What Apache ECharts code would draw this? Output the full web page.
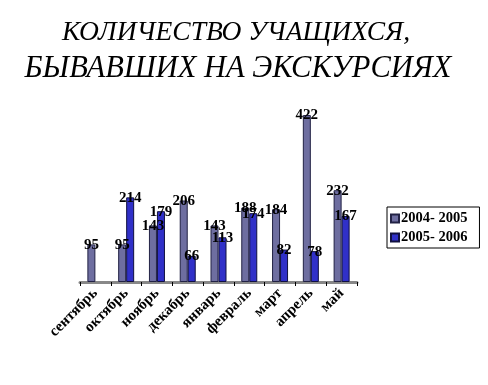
<!DOCTYPE html>
<html><head><meta charset="utf-8">
<script src="https://cdn.jsdelivr.net/npm/echarts@6/dist/echarts.min.js"></script>
<style>html,body{margin:0;padding:0;background:#fff}#c{width:488px;height:385px}</style>
</head><body><div id="c"></div>
<script>
const categories = ['сентябрь','октябрь','ноябрь','декабрь','январь','февраль','март','апрель','май'];
const seriesNames = ['2004- 2005','2005- 2006'];
const values2004 = [95, 95, 143, 206, 143, 188, 184, 422, 232];
const values2005 = [null, 214, 179, 66, 113, 174, 82, 78, 167];
const titleLines = ['КОЛИЧЕСТВО УЧАЩИХСЯ,', 'БЫВАВШИХ НА ЭКСКУРСИЯХ'];

const serif = '"Liberation Serif","Times New Roman",serif';
const chart = echarts.init(document.getElementById('c'), null, {renderer:'canvas'});
const labelCfg = {show:true, position:'top', distance:-8, fontFamily:serif, fontWeight:'bold', fontSize:15, color:'#000'};
chart.setOption({
  animation:false,
  title:[
    {text:titleLines[0], left:231, textAlign:'center', top:14, textStyle:{fontFamily:serif, fontStyle:'italic', fontWeight:'normal', fontSize:27.5, color:'#000'}},
    {text:titleLines[1], left:233, textAlign:'center', top:49, textStyle:{fontFamily:serif, fontStyle:'italic', fontWeight:'normal', fontSize:30.5, color:'#000'}}
  ],
  legend:{
    orient:'vertical', left:387, top:207, itemWidth:8, itemHeight:8, itemGap:4,
    borderColor:'#000', borderWidth:1, padding:[4,12,3,3],
    textStyle:{fontFamily:serif, fontWeight:'bold', fontSize:14.5, color:'#000', padding:[0,0,0,-3]},
    data:seriesNames.map(n=>({name:n, icon:'rect'}))
  },
  grid:{left:80, right:131, top:104, bottom:103},
  xAxis:{
    type:'category', data:categories, boundaryGap:true,
    axisLine:{lineStyle:{color:'#888', width:3}},
    axisTick:{show:true, length:4, lineStyle:{color:'#000'}},
    axisLabel:{rotate:45, fontFamily:serif, fontWeight:'bold', fontSize:15, color:'#000', margin:9, interval:0}
  },
  yAxis:{type:'value', min:0, max:450, show:false, splitLine:{show:false}},
  series:[
    {name:seriesNames[0], type:'bar', data:values2004, barWidth:8, barGap:'0%',
     itemStyle:{color:'#6E6EA0', borderColor:'#222244', borderWidth:1}, label:labelCfg},
    {name:seriesNames[1], type:'bar', data:values2005, barWidth:8,
     itemStyle:{color:'#3030C8', borderColor:'#101040', borderWidth:1}, label:labelCfg}
  ]
});
</script></body></html>
